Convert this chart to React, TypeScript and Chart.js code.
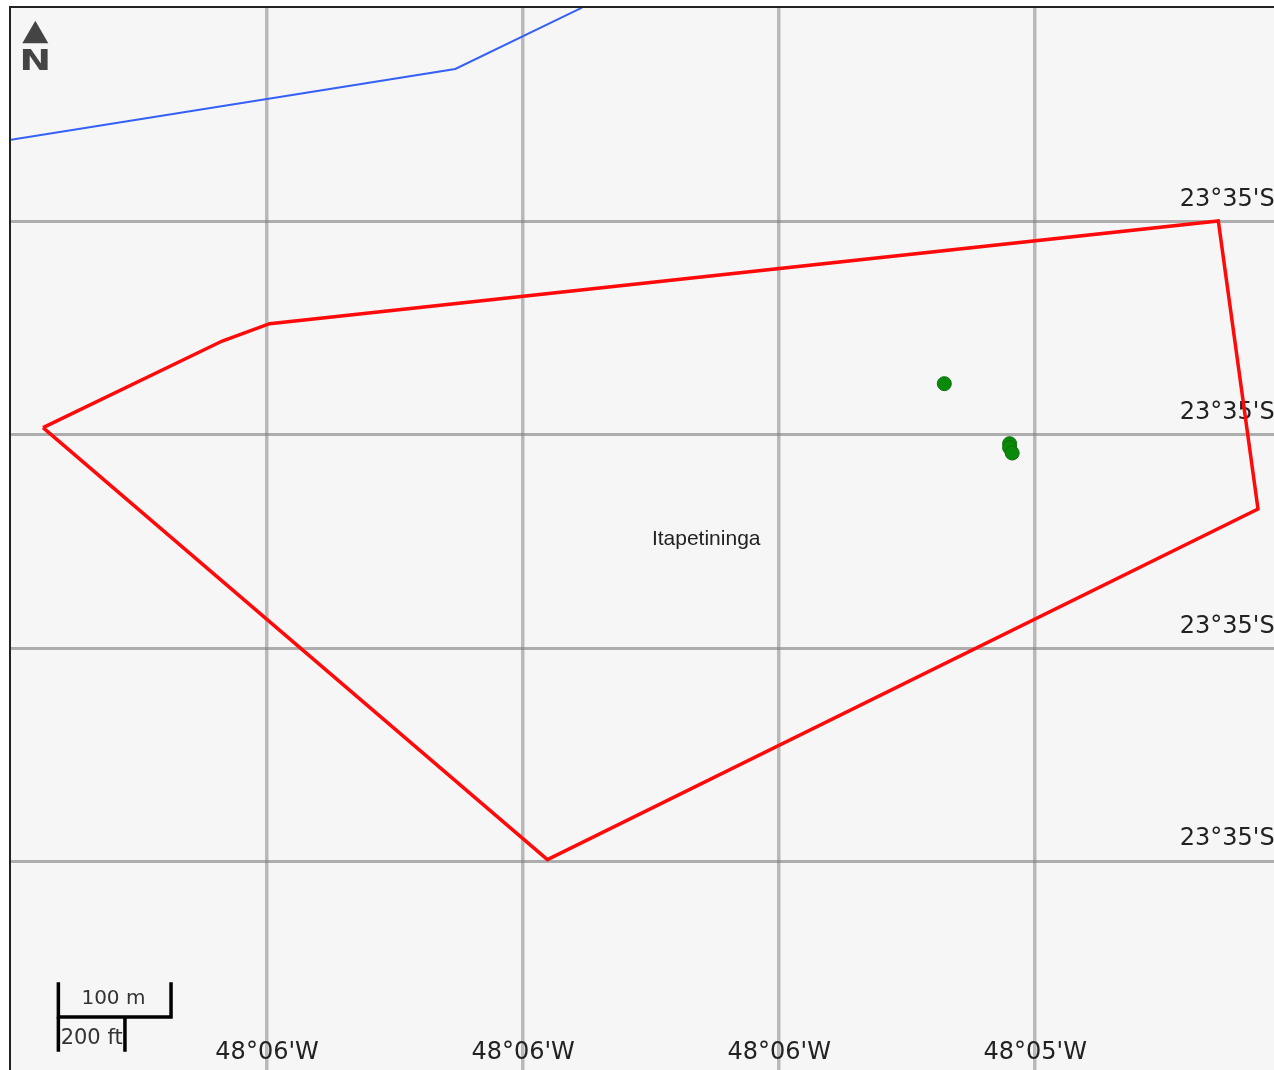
import React, { useEffect, useRef } from "react";
import { Chart, registerables } from "chart.js";

Chart.register(...registerables);

const lonTicks = [-48.09749, -48.09549, -48.09349, -48.09149];
const lonLabels = ["48°06'W", "48°06'W", "48°06'W", "48°05'W"];
const latTicks = [-23.580005, -23.5816, -23.583205, -23.5848];
const latLabels = ["23°35'S", "23°35'S", "23°35'S", "23°35'S"];

const boundaryLon = [-48.09924, -48.09784, -48.09747, -48.09006, -48.08975, -48.0953, -48.09924];
const boundaryLat = [-23.58155, -23.5809, -23.58077, -23.58, -23.58216, -23.58479, -23.58155];

const riverLon = [-48.09949, -48.09602, -48.09503];
const riverLat = [-23.57939, -23.57886, -23.5784];

const siteLon = [-48.0922, -48.09169, -48.09169, -48.09167];
const siteLat = [-23.58122, -23.58167, -23.5817, -23.58174];

const scaleMetricLon = [-48.09912, -48.09912, -48.09824, -48.09824];
const scaleMetricLat = [-23.58571, -23.58597, -23.58597, -23.58571];
const scaleFeetLon = [-48.09912, -48.09912, -48.0986, -48.0986, -48.0986];
const scaleFeetLat = [-23.58597, -23.58623, null, -23.58597, -23.58623];

const northLon = [-48.0993];
const northLat = [-23.57861];

const mapLabels = [
  { text: "Itapetininga", lon: -48.09406, lat: -23.58239, font: "21px 'Liberation Sans'", color: "#222", stretch: 1 },
  { text: "N", lon: -48.0993, lat: -23.57881, font: "bold 29px 'DejaVu Sans'", color: "#444", stretch: 1.3 },
  { text: "100 m", lon: -48.09869, lat: -23.58583, font: "20px 'DejaVu Sans'", color: "#333", stretch: 1 },
  { text: "200 ft", lon: -48.09886, lat: -23.58613, font: "21px 'DejaVu Sans'", color: "#333", stretch: 1 },
];

const xMin = -48.09949;
const xMax = -48.089625;
const yMin = -23.5863675;
const yMax = -23.5784025;

const zip = (xs: number[], ys: (number | null)[]) => xs.map((x, i) => ({ x, y: ys[i] }));

const noPadding = (s: any) => {
  s.paddingTop = 0;
  s.paddingBottom = 0;
  s.paddingLeft = 0;
  s.paddingRight = 0;
};

const mapFrame = {
  id: "mapFrame",
  beforeDraw(chart: any) {
    const { ctx, chartArea: a } = chart;
    ctx.save();
    ctx.fillStyle = "#f6f6f6";
    ctx.fillRect(a.left, a.top, a.right - a.left, a.bottom - a.top);
    ctx.strokeStyle = "#222";
    ctx.lineWidth = 2;
    ctx.beginPath();
    ctx.moveTo(a.left - 1, a.bottom);
    ctx.lineTo(a.left - 1, a.top - 1);
    ctx.lineTo(a.right, a.top - 1);
    ctx.stroke();
    ctx.restore();
  },
};

const mapText = {
  id: "mapText",
  afterDatasetsDraw(chart: any) {
    const { ctx, scales } = chart;
    for (const l of mapLabels) {
      ctx.save();
      ctx.textAlign = "center";
      ctx.textBaseline = "middle";
      ctx.font = l.font;
      ctx.fillStyle = l.color;
      ctx.translate(scales.x.getPixelForValue(l.lon), scales.y.getPixelForValue(l.lat));
      ctx.scale(l.stretch, 1);
      ctx.fillText(l.text, 0, 0);
      ctx.restore();
    }
  },
};

export default function App() {
  const ref = useRef<HTMLCanvasElement | null>(null);
  useEffect(() => {
    if (!ref.current) return;
    const line = (label: string, lon: number[], lat: (number | null)[], color: string, width: number) => ({
      type: "line" as const,
      label,
      data: zip(lon, lat),
      borderColor: color,
      borderWidth: width,
      pointRadius: 0,
      tension: 0,
      fill: false,
      spanGaps: false,
      borderJoinStyle: "miter" as const,
    });
    const chart = new Chart(ref.current, {
      type: "scatter",
      data: {
        datasets: [
          line("River", riverLon, riverLat, "#3560f5", 2),
          line("Boundary", boundaryLon, boundaryLat, "#ff0a0a", 3.5),
          {
            label: "Sites",
            data: zip(siteLon, siteLat),
            backgroundColor: "#0a8a0a",
            borderColor: "#0b6f0b",
            borderWidth: 1,
            pointRadius: 7,
          },
          line("Scale 100 m", scaleMetricLon, scaleMetricLat, "#000", 3.5),
          line("Scale 200 ft", scaleFeetLon, scaleFeetLat, "#000", 3.5),
          {
            label: "North",
            data: zip(northLon, northLat),
            pointStyle: "triangle",
            pointRadius: 15,
            backgroundColor: "#444",
            borderColor: "#444",
            borderWidth: 0,
          },
        ] as any,
      },
      options: {
        animation: false,
        responsive: false,
        devicePixelRatio: 1,
        layout: { autoPadding: false, padding: { left: 11, top: 8, right: 0, bottom: 0 } },
        plugins: { legend: { display: false }, tooltip: { enabled: false } },
        scales: {
          x: {
            type: "linear",
            min: xMin,
            max: xMax,
            position: { y: -23.58613 } as any,
            afterFit: noPadding,
            afterBuildTicks: (s: any) => {
              s.ticks = lonTicks.map((value) => ({ value }));
            },
            grid: { color: "rgba(120,120,120,0.48)", lineWidth: 3.5, drawTicks: false },
            border: { display: false },
            ticks: {
              padding: 0,
              autoSkip: false,
              maxRotation: 0,
              color: "#222",
              font: { family: "'DejaVu Sans'", size: 24 },
              callback: (_v: any, i: number) => lonLabels[i],
            },
          },
          y: {
            type: "linear",
            min: yMin,
            max: yMax,
            position: { x: -48.08962 } as any,
            afterFit: noPadding,
            afterBuildTicks: (s: any) => {
              s.ticks = latTicks.map((value) => ({ value }));
            },
            grid: { color: "rgba(120,120,120,0.58)", lineWidth: 3, drawTicks: false },
            border: { display: false },
            ticks: {
              padding: 0,
              autoSkip: false,
              labelOffset: -22,
              color: "#222",
              font: { family: "'DejaVu Sans'", size: 24 },
              callback: (_v: any, i: number) => latLabels[i],
            },
          },
        },
      },
      plugins: [mapFrame, mapText],
    } as any);
    return () => chart.destroy();
  }, []);
  return (
    <div style={{ position: "absolute", left: 0, top: 0, width: 1274, height: 1070, overflow: "hidden", background: "#fff" }}>
      <canvas ref={ref} width={1274} height={1070} style={{ display: "block", width: 1274, height: 1070, filter: "blur(0.6px)" }} />
    </div>
  );
}
